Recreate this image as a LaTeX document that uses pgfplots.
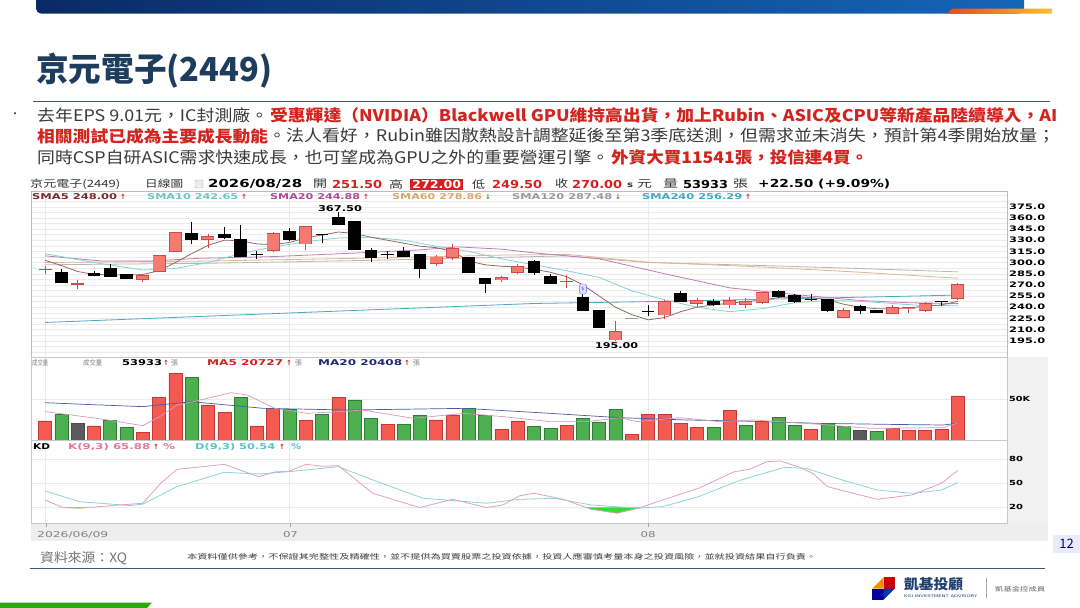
\documentclass[border=0pt]{standalone}
\usepackage{fontspec}
\usepackage{graphicx}
\usepackage{pgfplots}
\pgfplotsset{compat=1.18}
\usepackage{pgfplotstable}
\setmainfont{Noto Sans CJK TC}
\newfontfamily\dv{DejaVu Sans}
\newcommand\fw[2]{\resizebox{#1}{\height}{#2}}
\newcommand\fs[1]{\fontsize{#1}{#1}\selectfont}

\definecolor{bannerL}{HTML}{0A2A66}
\definecolor{bannerR}{HTML}{1565B8}
\definecolor{orgL}{HTML}{E8481C}
\definecolor{orgR}{HTML}{F6C232}
\definecolor{titlec}{HTML}{1E3D5C}
\definecolor{rulec}{HTML}{4A5563}
\definecolor{bodytext}{HTML}{3A3A3A}
\definecolor{redtext}{HTML}{D3231E}
\definecolor{numred}{HTML}{D42020}
\definecolor{hdrtxt}{HTML}{333333}
\definecolor{candlered}{HTML}{F47A72}
\definecolor{candleedge}{HTML}{D04848}
\definecolor{volred}{HTML}{F25A52}
\definecolor{volredE}{HTML}{C23A36}
\definecolor{volgreen}{HTML}{4CAF50}
\definecolor{volgreenE}{HTML}{2E7D32}
\definecolor{volgray}{HTML}{5A5A5A}
\definecolor{smaA}{HTML}{8E6C64}
\definecolor{smaB}{HTML}{84D2D8}
\definecolor{smaC}{HTML}{BE7DB4}
\definecolor{smaD}{HTML}{DDB88E}
\definecolor{smaE}{HTML}{BDB5B5}
\definecolor{smaF}{HTML}{4EA6C2}
\definecolor{kcol}{HTML}{E2A2B8}
\definecolor{dcol}{HTML}{8CD4D8}
\definecolor{mavA}{HTML}{D99AB8}
\definecolor{mavB}{HTML}{4C5AA8}
\definecolor{framemag}{HTML}{D8A8D8}
\definecolor{panelc}{HTML}{C8C8C8}
\definecolor{gridc}{HTML}{EBEBEB}
\definecolor{kdgreen}{HTML}{33DD33}
\definecolor{lblA}{HTML}{7A2A2A}
\definecolor{lblB}{HTML}{6CC6CC}
\definecolor{lblC}{HTML}{B0489A}
\definecolor{lblD}{HTML}{D8A868}
\definecolor{lblE}{HTML}{9A9A9A}
\definecolor{lblF}{HTML}{40A8C8}
\definecolor{upc}{HTML}{D42020}
\definecolor{dnc}{HTML}{20A020}
\definecolor{kdK}{HTML}{E07A98}
\definecolor{kdD}{HTML}{58C4C8}
\definecolor{navy}{HTML}{1E2A78}
\definecolor{logoN}{HTML}{1F3F6F}

% red (up) candles: low, body bottom, body top, high
\pgfplotstableread{
i lw lq uq uw
0 284 290 291 295
2 264 271 272 276.5
6 273.5 277.5 282.5 283
7 287 287.5 309 310
8 314 314.5 340 341
10 319 330.5 334.5 338
14 313.5 316 338.5 340.5
16 317.5 325 348 349
24 296 299 307.5 310
25 303 307 319 324.5
28 273.5 276.5 280 281.5
29 284 287 295 298
32 265.5 274 275 283.5
35 195 196 207 221.5
38 224 229.5 247.5 249.5
40 240.5 245 249.5 253
42 238.5 243 249.5 254
43 238.5 244 248 253
44 244.5 246.5 259.5 261
49 225 226 236 238.5
52 231 232 239.5 243
53 232 239 239.5 240.5
54 234 236 245 247.5
56 249.5 251.5 270 272
}\redc

% black (down) candles
\pgfplotstableread{
i lw lq uq uw
1 272 272.5 287 291
3 281.5 282.5 285.5 288
4 281 281.5 292 298
5 278 279 284 285
9 325 330.5 339 354
11 331 333.5 338.5 348
12 308 308.5 331 351
13 304.5 310 311 315.5
15 329.5 331 342.5 347
17 326 337 337.5 338
18 350 351.5 360.5 367.5
19 317 317.5 355 355.5
20 301 306.5 317 319
21 304.5 310 310.5 315.5
22 307 308 315.5 320.5
23 279 292 311 312
26 286 287 306.5 307.5
27 258.5 271 279 279.5
30 283.5 286.5 301 303.5
31 270.5 271 281 284.5
33 235.5 236 253 258
34 212.5 213 236 236.5
37 228.5 234 234.5 243
39 247 247.5 258 262
41 242 243 247.5 251
45 253 254 261 263
46 245 247.5 256.5 258
47 249 250.5 251 258
48 234 236 250.5 251.5
50 230.5 235.5 241.5 242.5
51 232 233 235.5 236.5
55 242 247.5 248 248.5
}\blackc

\begin{document}
\begin{tikzpicture}[x=1pt,y=1pt]
\fill[white] (0,0) rectangle (1080,-608);

% top banner
\begin{scope}
\clip (0,0) rectangle (1080,-20);
\shade[left color=bannerL,right color=bannerR,rounded corners=5pt] (36,8) rectangle (1024,-13.5);
\end{scope}
\shade[left color=orgL,right color=orgR] (952,-8.5) -- (1052,-8.5) -- (1052,-13.5) -- (947,-13.5) -- cycle;

% title
\node[anchor=west,inner sep=0,text=titlec] at (36,-71) {\fs{33}\bfseries\fw{236pt}{京元電子(2449)}};
\draw[rulec,line width=0.9pt] (33,-101.5) -- (1050,-101.5);

% bullet text
\node[inner sep=0,text=bodytext] at (15,-115) {\fs{10}•};
\node[anchor=west,inner sep=0,text=bodytext] at (37,-115) {\fs{16}\fw{231pt}{去年EPS 9.01元，IC封測廠。}};
\node[anchor=west,inner sep=0,text=redtext] at (270,-115) {\fs{16}\bfseries\fw{787pt}{受惠輝達（NVIDIA）Blackwell GPU維持高出貨，加上Rubin、ASIC及CPU等新產品陸續導入，AI}};
\node[anchor=west,inner sep=0,text=redtext] at (37,-136) {\fs{16}\bfseries\fw{231pt}{相關測試已成為主要成長動能}};
\node[anchor=west,inner sep=0,text=bodytext] at (268,-136) {\fs{16}\fw{787pt}{。法人看好，Rubin雖因散熱設計調整延後至第3季底送測，但需求並未消失，預計第4季開始放量；}};
\node[anchor=west,inner sep=0,text=bodytext] at (37,-157) {\fs{16}\fw{572pt}{同時CSP自研ASIC需求快速成長，也可望成為GPU之外的重要營運引擎。}};
\node[anchor=west,inner sep=0,text=redtext] at (611,-157) {\fs{16}\bfseries\fw{257pt}{外資大買11541張，投信連4買。}};

% chart backgrounds
\fill[gray!10] (1007,-357) rectangle (1048,-541);
\fill[gray!13] (31,-523) rectangle (1048,-541);

% ---------------- price panel
\begin{axis}[at={(31pt,-357pt)}, anchor=south west, scale only axis,
  width=976pt, height=166pt,
  xmin=-0.859, xmax=59.02, ymin=173.1, ymax=396.1,
  axis line style={draw=framemag, line width=0.8pt},
  xtick={0,15,37}, xticklabels={},
  ytick={195,210,...,375}, minor ytick={180,187.5,...,390},
  major tick length=0, minor tick length=0,
  xmajorgrids, ymajorgrids, yminorgrids,
  grid style={gridc, line width=0.4pt},
  minor grid style={gridc, line width=0.4pt},
  yticklabel pos=right,
  yticklabel style={anchor=west, xshift=2pt, inner sep=0pt},
  yticklabel={\dv\bfseries\fs{7.5}\fw{36pt}{\pgfmathprintnumber[assume math mode=true,fixed,fixed zerofill,precision=1]{\tick}}},
  candle/.style={draw=none, no markers, forget plot, error bars/.cd, y dir=plus, y explicit, error mark=none},
]
\addplot[smaF, line width=0.8pt] coordinates {(0,219.5) (10,228) (20,236.5) (30,245) (37,247.5) (45,251) (56,256.3)};
\addplot[smaE, line width=0.8pt] coordinates {(0,297) (10,299) (20,303) (28,307) (32,309) (37,300) (44,296) (50,292) (56,287.48)};
\addplot[smaD, line width=0.8pt] coordinates {(0,300) (10,302) (20,306) (28,310) (32,311) (37,300.5) (44,294) (50,287) (56,278.86)};
\addplot[smaC, line width=0.8pt] coordinates {(0,309) (3.5,302) (6.4,302) (9.4,305.6) (14,308) (18.7,312.4) (23,317) (25.3,321) (28,318) (30,313) (34,305) (38,285) (42,266) (46,257) (48,253) (50,249) (53,246) (56,244.88)};
\addplot[smaB, line width=0.8pt] coordinates {(0,312) (3,300) (6,290) (8,292) (10,300) (12,312) (14,321) (16,328) (18,333) (20,334) (22,330) (24,322) (26,315) (28,305) (30,297) (32,289) (34,280) (36,262) (38,250) (40,240) (42,234) (44,238) (46,246) (48,249) (50,248) (52,245) (54,242) (56,242.65)};
\addplot[smaA, line width=0.8pt] coordinates {(0,303) (1,296) (2,288) (3,284) (4,283.5) (5,283) (6,284) (7,289) (8,300) (9,312) (10,323) (11,330) (12,329.5) (13,325) (14,324) (15,327) (16,333) (17,337) (18,341) (19,339) (20,334) (21,330) (22,326) (23,322) (24,320) (25,315) (26,302) (27,297) (28,295) (29,294) (30,291) (31,287) (32,281) (33,270) (34,255) (35,240) (36,230) (37,223) (38,226) (39,234) (40,240) (41,243) (42,245.5) (43,247.5) (44,249.5) (45,253) (46,254) (47,253) (48,250) (49,244) (50,240) (51,238) (52,238) (53,239) (54,241.5) (55,243) (56,248)};
% black candles: wicks then bodies
\addplot[candle, error bar style={draw=black, line width=0.8pt}] table[x=i, y=lw, y error plus expr=\thisrow{uw}-\thisrow{lw}] {\blackc};
\addplot[candle, error bar style={draw=black, line width=12.6pt}] table[x=i, y expr=\thisrow{lq}-0.5, y error plus expr=\thisrow{uq}-\thisrow{lq}+1] {\blackc};
% red candles: wicks, edge, body
\addplot[candle, error bar style={draw=candleedge, line width=0.8pt}] table[x=i, y=lw, y error plus expr=\thisrow{uw}-\thisrow{lw}] {\redc};
\addplot[candle, error bar style={draw=candleedge, line width=13pt}] table[x=i, y expr=\thisrow{lq}-0.6, y error plus expr=\thisrow{uq}-\thisrow{lq}+1.2] {\redc};
\addplot[candle, error bar style={draw=candlered, line width=11.4pt}] table[x=i, y expr=\thisrow{lq}+0.5, y error plus expr=\thisrow{uq}-\thisrow{lq}-1] {\redc};
% flat (locked) session
\addplot[gray!80, line width=1pt, forget plot] coordinates {(35.6,225) (36.4,225)};
\node[draw=blue!60, fill=blue!12, rounded corners=1.5pt, minimum width=7pt, minimum height=10pt, inner sep=0pt] at (axis cs:33,264.4) {\dv\fs{5}\textcolor{blue!70}{\$}};
\end{axis}

% ---------------- volume panel
\begin{axis}[at={(31pt,-440pt)}, anchor=south west, scale only axis,
  width=976pt, height=83pt,
  xmin=-0.859, xmax=59.02, ymin=0, ymax=101.2,
  axis line style={draw=panelc, line width=0.6pt},
  xtick={0,15,37}, xticklabels={}, ytick={50},
  major tick length=0,
  xmajorgrids, ymajorgrids,
  grid style={gridc, line width=0.4pt},
  yticklabel pos=right,
  yticklabel style={anchor=west, xshift=2pt, inner sep=0pt},
  yticklabel={\dv\bfseries\fs{7}\fw{21pt}{50K}},
]
\addplot[ybar, bar width=0.8, bar shift=0pt, fill=volred, draw=volredE, line width=0.5pt] coordinates {(0,23.2) (3,17.1) (6,8.9) (7,52.4) (8,81.3) (10,42.7) (11,33.7) (13,17.1) (14,38.6) (16,24) (18,52.4) (21,19.5) (24,24.4) (25,30.5) (28,13.4) (29,23.4) (32,17.5) (36,6.5) (37,31.7) (38,31.7) (39,19.9) (40,15.4) (42,35.8) (44,22.4) (47,13.4) (52,14.2) (53,11.8) (54,11.8) (55,13.4) (56,53.9)};
\addplot[ybar, bar width=0.8, bar shift=0pt, fill=volgreen, draw=volgreenE, line width=0.5pt] coordinates {(1,31.3) (4,24) (5,15) (9,76.4) (12,51.6) (15,37.4) (17,31.7) (19,48.8) (20,26.4) (22,19.5) (23,30.1) (26,38.6) (27,30.1) (30,16.7) (31,14.6) (33,26.4) (34,22) (35,37.8) (41,15) (43,17.9) (45,27.6) (46,17.5) (48,20.3) (49,16.3) (51,10.6)};
\addplot[ybar, bar width=0.8, bar shift=0pt, fill=volgray, draw=black!70, line width=0.5pt] coordinates {(2,20.3) (50,11.4)};
\addplot[mavB, line width=0.7pt] coordinates {(0,45.5) (3,43) (6,40.7) (9,46.7) (13.4,38.6) (18.5,36.6) (22,37.5) (25.7,38.6) (28,36) (31,32.5) (33,30) (35.3,27.2) (39.4,24.4) (43,23) (47.5,20.3) (52,19) (55.1,18.3) (56,20.4)};
\addplot[mavA, line width=0.7pt] coordinates {(0,34.6) (3.2,26.4) (6,17.5) (7,28) (8.1,42.7) (9.1,46.7) (11.4,57.7) (12.4,54.9) (14.1,38.6) (16.1,32.5) (18.1,34.6) (19.5,36.6) (22.6,26.4) (25.7,32.5) (28.1,28.5) (31,22.4) (33.2,22.4) (35.3,27.2) (36.3,22.4) (39,27.2) (41.4,22.4) (43.5,24.4) (47.5,19.1) (50.6,14.2) (55.1,15) (56,20.7)};
\end{axis}

% ---------------- KD panel
\begin{axis}[at={(31pt,-523pt)}, anchor=south west, scale only axis,
  width=976pt, height=83pt,
  xmin=-0.859, xmax=59.02, ymin=0.56, ymax=103.6,
  axis line style={draw=panelc, line width=0.6pt},
  xtick={0,15,37}, xticklabels={}, ytick={20,50,80},
  major tick length=0,
  xmajorgrids, ymajorgrids,
  grid style={gridc, line width=0.4pt},
  yticklabel pos=right,
  yticklabel style={anchor=west, xshift=2pt, inner sep=0pt},
  yticklabel={\dv\bfseries\fs{7}\fw{14pt}{\pgfmathprintnumber[assume math mode=true]{\tick}}},
]
\addplot[fill=kdgreen, draw=none] coordinates {(1.07,20) (1.1,19.7) (2.1,18.9) (2.77,20)} -- cycle;
\addplot[fill=kdgreen, draw=none] coordinates {(33.17,20) (33.5,17.6) (35.1,12.7) (36.4,18.9) (36.56,20)} -- cycle;
\addplot[dcol, line width=0.8pt] coordinates {(0,40.4) (2.1,27.1) (5.2,22.2) (6,24) (8.1,45.7) (11,63.5) (13.1,61.4) (15,64.3) (18,70.5) (20.1,54) (23.2,31.3) (25,28.4) (27.1,25.1) (29.1,30) (31.3,31.2) (33.5,23) (36.4,18.9) (37.9,20.9) (40.1,33.3) (42.7,54) (45.4,69.7) (46.7,68.4) (48.9,54) (51.05,41.5) (53.2,37.4) (55,41.5) (56,50.54)};
\addplot[kcol, line width=0.8pt] coordinates {(0,29.2) (1.1,19.7) (2.1,18.9) (4,22) (6,25.1) (7.1,49.9) (8.1,67.2) (11,73.4) (13.1,58.1) (14.1,63.9) (15,65) (16,73.4) (17.1,71) (18,71.8) (20.1,37.5) (23,19.7) (25,30) (27.1,19.7) (28.1,23) (29.1,34.2) (30,37.5) (31.8,30) (33.5,17.6) (35.1,12.7) (36.4,18.9) (37.9,29.2) (40.1,43.7) (42.3,64.3) (43.2,67.2) (44.3,76.7) (45.1,77.6) (46.2,70.5) (47.1,62.3) (48,45.7) (51.05,30) (53.2,35.4) (55,49.9) (56,65.88)};
\end{axis}

% chart header row 1
\node[anchor=west,inner sep=0,text=hdrtxt] at (30,-184) {\fs{10}\fw{90pt}{京元電子(2449)}};
\node[anchor=west,inner sep=0,text=hdrtxt] at (145,-184) {\fs{10}\fw{38pt}{日線圖}};
\draw[gray!60, fill=gray!15, rounded corners=1pt] (195,-180) rectangle (203,-188);
\node[anchor=west,inner sep=0] at (208,-184) {\dv\bfseries\fs{11}\fw{94pt}{2026/08/28}};
\node[anchor=west,inner sep=0,text=hdrtxt] at (313,-184) {\fs{10.5}\fw{14pt}{開}};
\node[anchor=west,inner sep=0,text=numred] at (332,-184) {\dv\bfseries\fs{11}\fw{50pt}{251.50}};
\node[anchor=west,inner sep=0,text=hdrtxt] at (389,-184) {\fs{10.5}\fw{14pt}{高}};
\fill[numred] (410,-178.5) rectangle (463,-190);
\node[anchor=west,inner sep=0,text=white] at (412,-184.3) {\dv\bfseries\fs{11}\fw{49pt}{272.00}};
\node[anchor=west,inner sep=0,text=hdrtxt] at (472,-184) {\fs{10.5}\fw{13pt}{低}};
\node[anchor=west,inner sep=0,text=numred] at (492,-184) {\dv\bfseries\fs{11}\fw{50pt}{249.50}};
\node[anchor=west,inner sep=0,text=hdrtxt] at (555,-184) {\fs{10.5}\fw{13pt}{收}};
\node[anchor=west,inner sep=0,text=numred] at (572,-184) {\dv\bfseries\fs{11}\fw{50pt}{270.00}};
\node[anchor=west,inner sep=0,text=hdrtxt] at (627,-185) {\dv\bfseries\fs{8}\fw{6pt}{s}};
\node[anchor=west,inner sep=0,text=hdrtxt] at (637,-184) {\fs{10.5}\fw{15pt}{元}};
\node[anchor=west,inner sep=0,text=hdrtxt] at (663,-184) {\fs{10.5}\fw{15pt}{量}};
\node[anchor=west,inner sep=0] at (683,-184) {\dv\bfseries\fs{11}\fw{45pt}{53933}};
\node[anchor=west,inner sep=0,text=hdrtxt] at (733,-184) {\fs{10.5}\fw{15pt}{張}};
\node[anchor=west,inner sep=0] at (758,-184) {\dv\bfseries\fs{11}\fw{132pt}{+22.50 (+9.09\%)}};

% SMA labels
\node[anchor=west,inner sep=0,text=lblA] at (32,-197) {\dv\bfseries\fs{8}\fw{85pt}{SMA5 248.00}};
\node[inner sep=0,text=upc] at (123,-197) {\dv\bfseries\fs{7}↑};
\node[anchor=west,inner sep=0,text=lblB] at (147,-197) {\dv\bfseries\fs{8}\fw{91pt}{SMA10 242.65}};
\node[inner sep=0,text=upc] at (244,-197) {\dv\bfseries\fs{7}↑};
\node[anchor=west,inner sep=0,text=lblC] at (270,-197) {\dv\bfseries\fs{8}\fw{90pt}{SMA20 244.88}};
\node[inner sep=0,text=upc] at (366,-197) {\dv\bfseries\fs{7}↑};
\node[anchor=west,inner sep=0,text=lblD] at (392,-197) {\dv\bfseries\fs{8}\fw{90pt}{SMA60 278.86}};
\node[inner sep=0,text=dnc] at (488,-197) {\dv\bfseries\fs{7}↓};
\node[anchor=west,inner sep=0,text=lblE] at (512,-197) {\dv\bfseries\fs{8}\fw{100pt}{SMA120 287.48}};
\node[inner sep=0,text=dnc] at (618,-197) {\dv\bfseries\fs{7}↓};
\node[anchor=west,inner sep=0,text=lblF] at (642,-197) {\dv\bfseries\fs{8}\fw{100pt}{SMA240 256.29}};
\node[inner sep=0,text=upc] at (748,-197) {\dv\bfseries\fs{7}↑};

% high/low labels
\node[inner sep=0] at (340,-208.3) {\dv\bfseries\fs{8}\fw{44pt}{367.50}};
\node[inner sep=0] at (616.5,-346) {\dv\bfseries\fs{8}\fw{43pt}{195.00}};

% volume header
\node[anchor=west,inner sep=0,text=gray] at (32,-363) {\fs{7}\fw{16pt}{成交量}};
\node[anchor=west,inner sep=0,text=gray] at (83,-363) {\fs{7}\fw{19pt}{成交量}};
\node[anchor=west,inner sep=0] at (122,-363) {\dv\bfseries\fs{8}\fw{40pt}{53933}};
\node[inner sep=0,text=upc] at (166,-363) {\dv\bfseries\fs{7}↑};
\node[anchor=west,inner sep=0,text=gray] at (171,-363) {\fs{7}張};
\node[anchor=west,inner sep=0,text=numred] at (207,-363) {\dv\bfseries\fs{8}\fw{76pt}{MA5 20727}};
\node[inner sep=0,text=upc] at (289,-363) {\dv\bfseries\fs{7}↑};
\node[anchor=west,inner sep=0,text=gray] at (295,-363) {\fs{7}張};
\node[anchor=west,inner sep=0,text=navy] at (318,-363) {\dv\bfseries\fs{8}\fw{84pt}{MA20 20408}};
\node[inner sep=0,text=upc] at (407,-363) {\dv\bfseries\fs{7}↑};
\node[anchor=west,inner sep=0,text=gray] at (413,-363) {\fs{7}張};

% KD header
\node[anchor=west,inner sep=0] at (33,-446.7) {\dv\bfseries\fs{8}\fw{17pt}{KD}};
\node[anchor=west,inner sep=0,text=kdK] at (68,-446.7) {\dv\bfseries\fs{8}\fw{82pt}{K(9,3) 65.88}};
\node[inner sep=0,text=upc] at (156,-446.7) {\dv\bfseries\fs{7}↑};
\node[anchor=west,inner sep=0,text=kdK] at (163,-446.7) {\dv\bfseries\fs{8}\fw{12pt}{\%}};
\node[anchor=west,inner sep=0,text=kdD] at (195,-446.7) {\dv\bfseries\fs{8}\fw{80pt}{D(9,3) 50.54}};
\node[inner sep=0,text=upc] at (282,-446.7) {\dv\bfseries\fs{7}↑};
\node[anchor=west,inner sep=0,text=kdD] at (291,-446.7) {\dv\bfseries\fs{8}\fw{10pt}{\%}};

% date labels
\foreach \xx in {46,290,648} {\draw[gray!70,line width=0.5pt] (\xx,-523) -- (\xx,-527);}
\node[anchor=west,inner sep=0,text=gray] at (37,-535) {\dv\fs{8}\fw{71pt}{2026/06/09}};
\node[inner sep=0,text=gray] at (290.5,-535) {\dv\fs{8}\fw{15pt}{07}};
\node[inner sep=0,text=gray] at (648,-535) {\dv\fs{8}\fw{15pt}{08}};

% footer
\node[anchor=west,inner sep=0,text=gray!90!black] at (40,-558) {\fs{13}\fw{87pt}{資料來源：XQ}};
\node[anchor=west,inner sep=0,text=bodytext] at (187,-557) {\fs{7}\fw{629pt}{本資料僅供參考，不保證其完整性及精確性，並不提供為買賣股票之投資依據，投資人應審慎考量本身之投資風險，並就投資結果自行負責。}};
\draw[rulec,line width=0.8pt] (30,-568) -- (1045,-568);
\fill[blue!8] (1053,-535) rectangle (1080,-553);
\node[inner sep=0,text=blue!50!black] at (1066.5,-544) {\fs{13}12};

% logo
\fill[orange!90!yellow] (872,-588.5) -- (883.5,-577) -- (883.5,-588.5) -- cycle;
\fill[red!80!black] (883.5,-577) -- (895,-577) -- (895,-588.5) -- (883.5,-588.5) -- cycle;
\fill[blue!60!black] (872,-588.5) -- (883.5,-588.5) -- (883.5,-600) -- (872,-600) -- cycle;
\fill[blue!70!cyan!70!black] (883.5,-588.5) -- (895,-588.5) -- (883.5,-600) -- cycle;
\fill[white] (872,-577) -- (883.5,-577) -- (872,-588.5) -- cycle;
\fill[white] (895,-588.5) -- (895,-600) -- (883.5,-600) -- cycle;
\node[anchor=west,inner sep=0,text=logoN] at (904,-584) {\fs{14}\bfseries\fw{59pt}{凱基投顧}};
\node[anchor=west,inner sep=0,text=logoN] at (904,-596.5) {\dv\fs{3.5}\fw{73pt}{KGI INVESTMENT ADVISORY}};
\draw[gray!70,line width=0.5pt] (986,-578) -- (986,-598);
\node[anchor=west,inner sep=0,text=gray!80!black] at (995,-589) {\fs{6}\fw{50pt}{凱基金控成員}};

% green bar bottom-left
\fill[green!60!black!80!lime] (0,-602.5) -- (152,-602.5) -- (147,-608) -- (0,-608) -- cycle;

\pgfresetboundingbox
\path[use as bounding box] (0,0) rectangle (1080,-608);
\end{tikzpicture}
\end{document}
